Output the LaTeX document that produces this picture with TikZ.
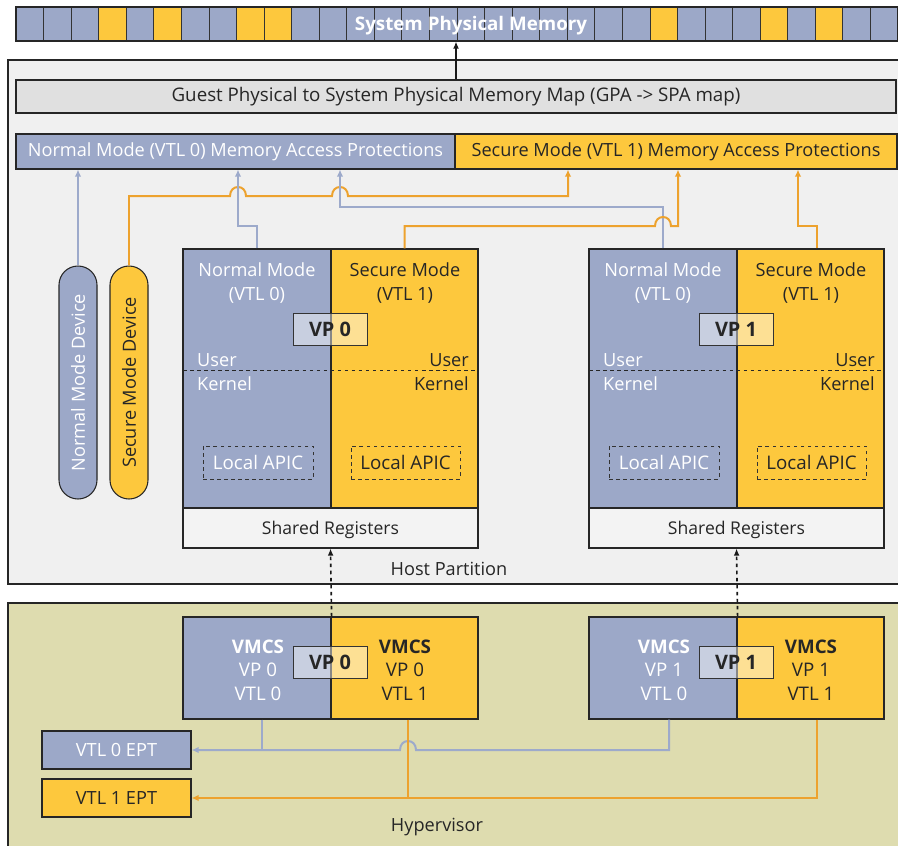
\documentclass[tikz,border=0pt]{standalone}
\usepackage{fontspec}
\setmainfont{Open Sans}
\usetikzlibrary{arrows.meta, positioning, calc, fit}
\definecolor{blueg}{HTML}{9CA8C8}
\definecolor{yell}{HTML}{FDC83D}
\definecolor{lineb}{HTML}{9DAACB}
\definecolor{lineo}{HTML}{EDA22E}
\definecolor{hostbg}{HTML}{F0F0F0}
\definecolor{gpabg}{HTML}{E0E0E0}
\definecolor{hypbg}{HTML}{DEDCAF}
\definecolor{regbg}{HTML}{F3F3F3}
\definecolor{txt}{HTML}{262626}

\begin{document}
\begin{tikzpicture}[x=0.3mm, y=-0.3mm,
  font=\fontsize{15.5}{20.5}\selectfont, text=txt,
  frame/.style={draw=black!85, line width=1.4pt, inner sep=0pt},
  bar/.style={draw=black!85, line width=0.9pt, inner sep=0pt},
  cell/.style={draw=black!80, line width=0.7pt},
  half/.style={draw=black!85, line width=1pt, inner sep=0pt},
  apic/.style={draw=black!80, dashed, line width=0.8pt, inner sep=0pt},
  vplab/.style={draw=black!80, line width=0.8pt, fill=white, fill opacity=0.45, inner sep=0pt},
  vptext/.style={font=\fontsize{17}{18}\selectfont\bfseries},
  wtext/.style={text=white},
  dev/.style={draw=black!85, line width=0.9pt, rotate=90, minimum width=233*0.3mm,
    minimum height=38*0.3mm, rounded corners=5.7mm, inner sep=0pt},
  bline/.style={draw=lineb, line width=1.7pt},
  oline/.style={draw=lineo, line width=1.7pt},
  tip/.style={-{Latex[length=6pt,width=5.5pt]}},
  dasharrow/.style={draw=black!90, dashed, line width=1.4pt, -{Latex[length=6pt,width=5pt]}}
]
\useasboundingbox (0,0) rectangle (898,845);

% physical memory pages
\foreach \i in {0,...,31}
  \draw[cell, fill=blueg] ({16+27.5625*\i},7) rectangle ++(27.5625,34);
\foreach \i in {3,5,8,9,23,27,29}
  \draw[cell, fill=yell] ({16+27.5625*\i},7) rectangle ++(27.5625,34);
\node[fit={(16,7)(898,41)}, bar] (mem) {};
\node[text=white, font=\fontsize{16}{18}\selectfont\bfseries] (memlab) at (471,26) {System Physical Memory};

% two big areas
\node[fit={(8,60)(906,584)}, frame, fill=hostbg] (host) {};
\node (hostlab) at (449,569) {Host Partition};
\node[fit={(8,603)(906,850)}, frame, fill=hypbg] (hyp) {};
\node (hyplab) at (437,827) {Hypervisor};

% maps and protections
\node[fit={(16,80)(896,113)}, bar, fill=gpabg] (gpa) {};
\node[font=\fontsize{16}{18}\selectfont] (gpalab) at (gpa.center) {Guest Physical to System Physical Memory Map (GPA -> SPA map)};
\node[fit={(16,134)(455,169)}, bar, fill=blueg] (nprot) {};
\node[wtext] (nprotlab) at (nprot.center) {Normal Mode (VTL 0) Memory Access Protections};
\node[fit={(455,134)(897,169)}, bar, fill=yell] (sprot) {};
\node (sprotlab) at (sprot.center) {Secure Mode (VTL 1) Memory Access Protections};
\draw[black!90, line width=1.4pt, -{Latex[length=6pt,width=5pt]}] (gpa.north) -- (mem.south -| gpa.north);

% devices
\node[dev, fill=blueg, text=white] (ndev) at (78,382.5) {Normal Mode Device};
\node[dev, fill=yell] (sdev) at (129,382.5) {Secure Mode Device};

% virtual processors in the host partition
\foreach \v/\x in {0/183, 1/589} {
  \node[fit={(\x,249)({\x+148},508)}, half, fill=blueg] (vp\v n) {};
  \node[fit={({\x+148},249)({\x+295},508)}, half, fill=yell] (vp\v s) {};
  \node[fit={(\x,508)({\x+295},548)}, half, fill=regbg] (vp\v reg) {};
  \node[font=\fontsize{15}{18}\selectfont] (vp\v regt) at ({\x+147.5},530) {Shared Registers};
  \draw[black!85, line width=1.4pt] (\x,249) rectangle ({\x+295},548);
  \draw[black!85, dashed, line width=0.8pt] (\x,370) -- ({\x+295},370);
  \node[wtext, align=center] (vp\v nt) at ({\x+74},283) {Normal Mode\\(VTL 0)};
  \node[align=center] (vp\v st) at ({\x+222},283) {Secure Mode\\(VTL 1)};
  \node[wtext, anchor=west, inner xsep=0pt] (vp\v nu) at ({\x+14},360) {User};
  \node[wtext, anchor=west, inner xsep=0pt] (vp\v nk) at ({\x+14},384) {Kernel};
  \node[anchor=east, inner xsep=0pt] (vp\v su) at ({\x+286},360) {User};
  \node[anchor=east, inner xsep=0pt] (vp\v sk) at ({\x+286},384) {Kernel};
  \node[fit={({\x+20},446)({\x+130},479)}, apic] (vp\v na) {};
  \node[wtext, font=\fontsize{16}{18}\selectfont] (vp\v nat) at (vp\v na.center) {Local APIC};
  \node[fit={({\x+168},446)({\x+277},479)}, apic] (vp\v sa) {};
  \node[font=\fontsize{16}{18}\selectfont] (vp\v sat) at (vp\v sa.center) {Local APIC};
  \node[fit={({\x+110},313)({\x+184},345)}, vplab] (vp\v) {};
  \node[vptext] (vp\v t) at (vp\v.center) {VP \v};
  % VMCS pair in the hypervisor
  \node[fit={(\x,617)({\x+148},719)}, half, fill=blueg] (vmcs\v n) {};
  \node[fit={({\x+148},617)({\x+295},719)}, half, fill=yell] (vmcs\v s) {};
  \draw[black!85, line width=1.4pt] (\x,617) rectangle ({\x+295},719);
  \node[wtext, align=center, font=\fontsize{16}{20}\selectfont] (vmcs\v nt) at ({\x+75},670)
    {\textbf{VMCS}\\VP \v\\VTL 0};
  \node[align=center, font=\fontsize{16}{20}\selectfont] (vmcs\v st) at ({\x+222},670)
    {\textbf{VMCS}\\VP \v\\VTL 1};
  \node[fit={({\x+110},646)({\x+184},678)}, vplab] (vmcs\v) {};
  \node[vptext] (vmcs\v t) at (vmcs\v.center) {VP \v};
  \draw[dasharrow] (vmcs\v n.north east) -- (vp\v reg.south);
}

% EPTs
\node[fit={(42,731)(191,769)}, bar, fill=blueg] (ept0) {};
\node[wtext] (ept0t) at (ept0.center) {VTL 0 EPT};
\node[fit={(42,779)(191,817)}, bar, fill=yell] (ept1) {};
\node (ept1t) at (ept1.center) {VTL 1 EPT};

% protections wiring
\draw[bline, tip] (ndev.east) -- (ndev.east |- nprot.south);
\draw[oline, tip] (sdev.east) |- (230,196) .. controls (230,184) and (246,184) .. (246,196)
  -- (332,196) .. controls (332,184) and (348,184) .. (348,196)
  -- (568,196) -- (568,0 |- sprot.south);
\draw[bline, tip] (vp0n.north) |- (238,226) -- (238,0 |- nprot.south);
\draw[bline, tip] (vp1n.north) |- (340,207) -- (340,0 |- nprot.south);
\draw[oline, tip] (vp0s.north) |- (655,226) .. controls (655,214) and (671,214) .. (671,226)
  -- (678,226) -- (678,0 |- sprot.south);
\draw[oline, tip] ([xshift=2mm]vp1s.north) |- (798,226) -- (798,0 |- sprot.south);

% EPT wiring
\draw[bline] ([xshift=1.5mm]vmcs0n.south) -- ++(0,31);
\draw[bline, tip] ([xshift=1.8mm]vmcs1n.south) |- (416,750) .. controls (416,738) and (400,738) .. (400,750)
  -- (ept0.east);
\draw[oline] ([xshift=1mm]vmcs0s.south) -- ++(0,79);
\draw[oline, tip] ([xshift=2mm]vmcs1s.south) |- (ept1.east);
\end{tikzpicture}
\end{document}
